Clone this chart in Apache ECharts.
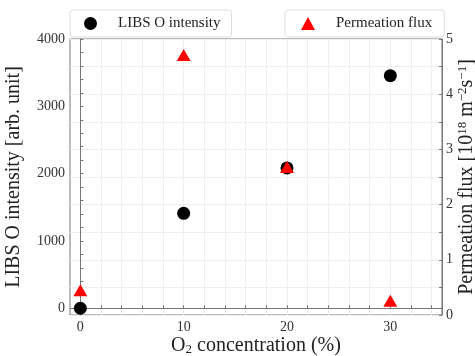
<!DOCTYPE html>
<html><head><meta charset="utf-8">
<script src="https://cdn.jsdelivr.net/npm/echarts@6/dist/echarts.min.js"></script>
<style>html,body{margin:0;padding:0;background:#fff}#c{width:475px;height:356px}</style>
</head><body><div id="c"></div>
<script>
var o2Concentration = [0, 10, 20, 30];
var libsIntensity = [0, 1410, 2085, 3455];
var permeationFlux = [0.45, 4.71, 2.68, 0.26];
var xTickLabels = [0, 10, 20, 30];
var xTicks = [0,2,4,6,8,10,12,14,16,18,20,22,24,26,28,30,32,34];
var leftTickLabels = [0, 1000, 2000, 3000, 4000];
var leftTicks = [0,200,400,600,800,1000,1200,1400,1600,1800,2000,2200,2400,2600,2800,3000,3200,3400,3600,3800,4000];
var rightTickLabels = [0, 1, 2, 3, 4, 5];
var rightTicks = [0,0.5,1,1.5,2,2.5,3,3.5,4,4.5,5];

var FONT = 'Liberation Serif';
var plain = function (v) { return String(v); };
var chart = echarts.init(document.getElementById('c'), null, {renderer: 'canvas'});
chart.setOption({
  animation: false,
  textStyle: {fontFamily: FONT},
  grid: {left: 70, right: 33, top: 39, bottom: 41, containLabel: false, outerBoundsMode: 'none',
         show: true, borderColor: '#777', borderWidth: 1, backgroundColor: 'transparent'},
  legend: [
    {data: ['LIBS O intensity'], left: 70, top: 10, itemWidth: 13, itemHeight: 13,
     padding: [6, 11, 6, 14], borderColor: '#ddd', borderWidth: 1, borderRadius: 3,
     textStyle: {fontFamily: FONT, fontSize: 15, color: '#222', padding: [0, 0, 0, 16]}},
    {data: ['Permeation flux'], left: 285, top: 10, itemWidth: 14, itemHeight: 13,
     padding: [6, 12, 6, 16], borderColor: '#ddd', borderWidth: 1, borderRadius: 3,
     textStyle: {fontFamily: FONT, fontSize: 15, color: '#222', padding: [0, 0, 0, 16]}}
  ],
  xAxis: {
    type: 'value', min: -1, max: 35,
    name: '{t|O}{s|2}{t| concentration (%)}', nameLocation: 'middle', nameGap: 20, nameMoveOverlap: false,
    nameTextStyle: {rich: {t: {fontFamily: FONT, fontSize: 20, color: '#222'}, s: {fontFamily: FONT, fontSize: 13, color: '#222', verticalAlign: 'bottom', padding: [8, 0, 0, 0]}}},
    axisLine: {show: true, lineStyle: {color: '#777'}},
    axisTick: {show: true, inside: true, length: 3, customValues: xTicks, lineStyle: {color: '#777'}},
    axisLabel: {customValues: xTickLabels, formatter: plain, fontFamily: FONT, fontSize: 14, color: '#333', margin: 5},
    splitLine: {show: true, lineStyle: {color: '#eee', width: 1}}
  },
  yAxis: [
    {type: 'value', min: -100, max: 4000, position: 'left',
     name: 'LIBS O intensity [arb. unit]', nameLocation: 'middle', nameGap: 46, nameMoveOverlap: false,
     nameTextStyle: {fontFamily: FONT, fontSize: 20, color: '#222'},
     axisLine: {show: true, lineStyle: {color: '#777'}},
     axisTick: {show: true, inside: true, length: 3, customValues: leftTicks, lineStyle: {color: '#777'}},
     axisLabel: {customValues: leftTickLabels, formatter: plain, fontFamily: FONT, fontSize: 14, color: '#333', margin: 5},
     splitLine: {show: false}},
    {type: 'value', min: 0, max: 5, position: 'right',
     name: '{t|Permeation flux [10}{s|18}{t| m}{s|−2}{t|s}{s|−1}{t|]}', nameLocation: 'middle', nameGap: 14, nameMoveOverlap: false,
     nameTextStyle: {rich: {t: {fontFamily: FONT, fontSize: 20, color: '#222'}, s: {fontFamily: FONT, fontSize: 13, color: '#222', verticalAlign: 'top', padding: [0, 0, 8, 0]}}},
     axisLine: {show: true, lineStyle: {color: '#777'}},
     axisTick: {show: true, inside: true, length: 3, customValues: rightTicks, lineStyle: {color: '#777'}},
     axisLabel: {customValues: rightTickLabels, formatter: plain, fontFamily: FONT, fontSize: 14, color: '#333', margin: 4},
     splitLine: {show: true, lineStyle: {color: '#eee', width: 1}}}
  ],
  series: [
    {name: 'LIBS O intensity', type: 'scatter', yAxisIndex: 0, symbol: 'circle', symbolSize: 13,
     itemStyle: {color: '#000', opacity: 1},
     data: o2Concentration.map(function (x, i) { return [x, libsIntensity[i]]; })},
    {name: 'Permeation flux', type: 'scatter', yAxisIndex: 1, symbol: 'triangle', symbolSize: [14, 12],
     itemStyle: {color: '#ff0000', opacity: 1},
     data: o2Concentration.map(function (x, i) { return [x, permeationFlux[i]]; })}
  ]
});
</script></body></html>
